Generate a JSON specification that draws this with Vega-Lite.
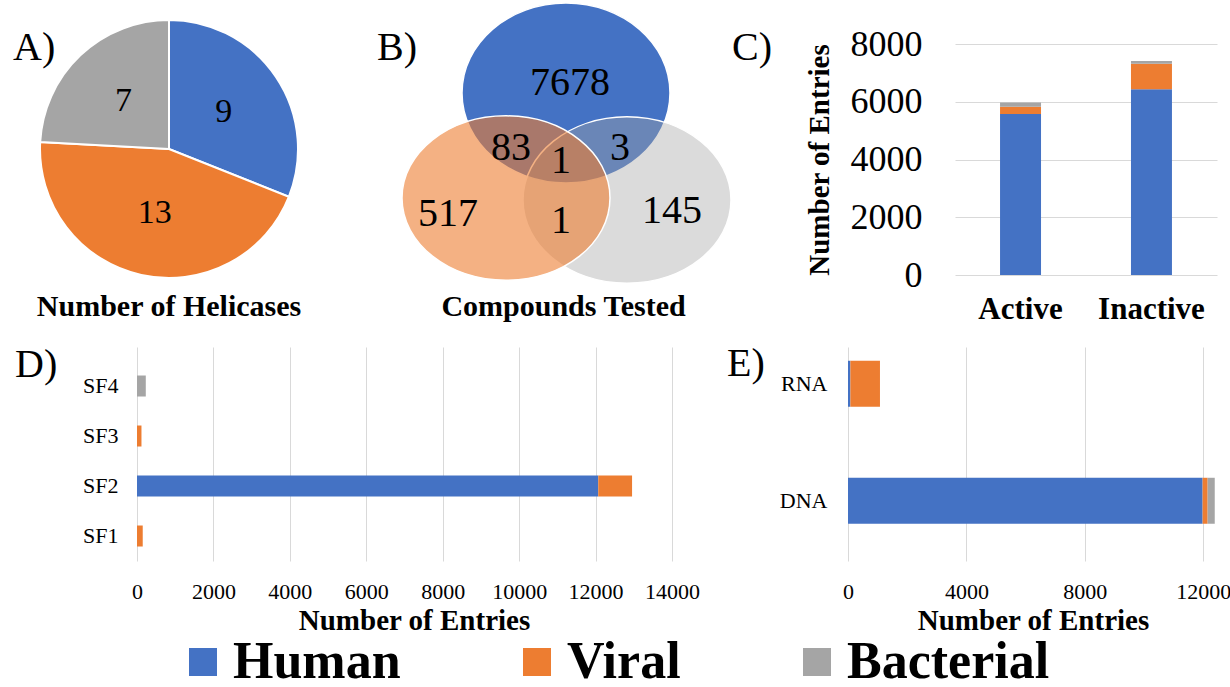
{
  "$schema": "https://vega.github.io/schema/vega-lite/v6.json",
  "background": "white",
  "padding": 0,
  "config": {
    "view": {"stroke": null},
    "font": "Liberation Serif",
    "axis": {
      "labelFont": "Liberation Serif",
      "titleFont": "Liberation Serif",
      "labelColor": "black",
      "titleColor": "black",
      "gridColor": "#D9D9D9",
      "gridWidth": 1,
      "domain": false,
      "ticks": false
    },
    "title": {"font": "Liberation Serif", "color": "black"},
    "text": {"font": "Liberation Serif", "color": "black"}
  },
  "datasets": {
    "helicases": [
      {"organism": "Human", "k": 1, "count": 9},
      {"organism": "Viral", "k": 2, "count": 13},
      {"organism": "Bacterial", "k": 3, "count": 7}
    ],
    "venn_sets": [
      {"organism": "Human", "cx": 228, "cy": 92},
      {"organism": "Bacterial", "cx": 289, "cy": 199},
      {"organism": "Viral", "cx": 168, "cy": 197}
    ],
    "venn_counts": [
      {"region": "Human only", "n": 7678, "cx": 232, "cy": 82},
      {"region": "Human and Viral", "n": 83, "cx": 173, "cy": 147},
      {"region": "All three", "n": 1, "cx": 223, "cy": 160},
      {"region": "Human and Bacterial", "n": 3, "cx": 282, "cy": 147},
      {"region": "Viral only", "n": 517, "cx": 110, "cy": 213},
      {"region": "Viral and Bacterial", "n": 1, "cx": 223, "cy": 220},
      {"region": "Bacterial only", "n": 145, "cx": 334, "cy": 210}
    ],
    "activity": [
      {"outcome": "Active", "organism": "Human", "k": 1, "entries": 5580},
      {"outcome": "Active", "organism": "Viral", "k": 2, "entries": 250},
      {"outcome": "Active", "organism": "Bacterial", "k": 3, "entries": 140},
      {"outcome": "Inactive", "organism": "Human", "k": 1, "entries": 6430},
      {"outcome": "Inactive", "organism": "Viral", "k": 2, "entries": 890},
      {"outcome": "Inactive", "organism": "Bacterial", "k": 3, "entries": 95}
    ],
    "superfamily": [
      {"family": "SF1", "organism": "Viral", "k": 2, "entries": 150},
      {"family": "SF2", "organism": "Human", "k": 1, "entries": 12070},
      {"family": "SF2", "organism": "Viral", "k": 2, "entries": 885},
      {"family": "SF3", "organism": "Viral", "k": 2, "entries": 117},
      {"family": "SF4", "organism": "Bacterial", "k": 3, "entries": 230}
    ],
    "nucleic": [
      {"substrate": "RNA", "organism": "Human", "k": 1, "entries": 80},
      {"substrate": "RNA", "organism": "Viral", "k": 2, "entries": 1000},
      {"substrate": "DNA", "organism": "Human", "k": 1, "entries": 11980},
      {"substrate": "DNA", "organism": "Viral", "k": 2, "entries": 170},
      {"substrate": "DNA", "organism": "Bacterial", "k": 3, "entries": 240}
    ]
  },
  "spacing": 19,
  "bounds": "full",
  "vconcat": [
    {
      "spacing": 0,
      "bounds": "flush",
      "hconcat": [
        {
          "width": 338,
          "height": 296,
          "title": {"text": "Number of Helicases", "orient": "bottom", "fontSize": 30, "fontWeight": "bold", "offset": -5},
          "layer": [
            {
              "data": {"name": "helicases"},
              "mark": {"type": "arc", "outerRadius": 129, "stroke": "white", "strokeWidth": 2},
              "encoding": {
                "theta": {"field": "count", "type": "quantitative", "stack": true},
                "order": {"field": "k", "type": "quantitative"},
                "color": {"field": "organism", "type": "nominal", "scale": {"domain": ["Human", "Viral", "Bacterial"], "range": ["#4472C4", "#ED7D31", "#A5A5A5"]}}
              }
            },
            {
              "data": {"name": "helicases"},
              "mark": {"type": "text", "radius": 66, "fontSize": 34},
              "encoding": {
                "theta": {"field": "count", "type": "quantitative", "stack": true},
                "order": {"field": "k", "type": "quantitative"},
                "text": {"field": "count", "type": "quantitative"}
              }
            },
            {
              "data": {"values": [{"panel": "A)", "px": 13, "py": 59}]},
              "mark": {"type": "text", "align": "left", "baseline": "alphabetic", "fontSize": 40},
              "encoding": {
                "x": {"field": "px", "type": "quantitative", "scale": {"domain": [0, 338], "nice": false}, "axis": null},
                "y": {"field": "py", "type": "quantitative", "scale": {"domain": [0, 296], "nice": false, "reverse": true}, "axis": null},
                "text": {"field": "panel"}
              }
            }
          ]
        },
        {
          "width": 617,
          "height": 296,
          "title": {"text": "Compounds Tested", "orient": "bottom", "fontSize": 30, "fontWeight": "bold", "offset": -5, "dx": -83},
          "encoding": {
            "x": {"field": "cx", "type": "quantitative", "scale": {"domain": [0, 617], "nice": false}, "axis": null},
            "y": {"field": "cy", "type": "quantitative", "scale": {"domain": [0, 296], "nice": false, "reverse": true}, "axis": null}
          },
          "layer": [
            {
              "data": {"name": "venn_sets"},
              "transform": [{"filter": "datum.organism === 'Human'"}],
              "mark": {"type": "point", "filled": true, "shape": "M -1 0 A 1 0.865 0 1 1 1 0 A 1 0.865 0 1 1 -1 0 Z", "size": 43264, "fill": "#4472C4", "opacity": 1, "stroke": "white", "strokeWidth": 1.5}
            },
            {
              "data": {"name": "venn_sets"},
              "transform": [{"filter": "datum.organism === 'Bacterial'"}],
              "mark": {"type": "point", "filled": true, "shape": "M -1 0 A 1 0.8 0 1 1 1 0 A 1 0.8 0 1 1 -1 0 Z", "size": 43264, "fill": "#A5A5A5", "opacity": 1, "fillOpacity": 0.4, "stroke": "white", "strokeWidth": 1.5}
            },
            {
              "data": {"name": "venn_sets"},
              "transform": [{"filter": "datum.organism === 'Viral'"}],
              "mark": {"type": "point", "filled": true, "shape": "M -1 0 A 1 0.79 0 1 1 1 0 A 1 0.79 0 1 1 -1 0 Z", "size": 43264, "fill": "#ED7D31", "opacity": 1, "fillOpacity": 0.6, "stroke": "white", "strokeWidth": 1.5}
            },
            {
              "data": {"name": "venn_counts"},
              "mark": {"type": "text", "fontSize": 40, "baseline": "middle"},
              "encoding": {"text": {"field": "n", "type": "quantitative"}}
            },
            {
              "data": {"values": [{"panel": "B)", "cx": 39, "cy": 59}, {"panel": "C)", "cx": 394, "cy": 59}]},
              "mark": {"type": "text", "align": "left", "baseline": "alphabetic", "fontSize": 40},
              "encoding": {"text": {"field": "panel"}}
            }
          ]
        },
        {
          "spacing": 0,
          "bounds": "flush",
          "vconcat": [
            {"width": 262, "height": 43, "data": {"values": []}, "mark": "point"},
            {
              "width": 262,
              "height": 231,
              "data": {"name": "activity"},
              "mark": {"type": "bar"},
              "encoding": {
                "x": {"field": "outcome", "type": "nominal", "sort": ["Active", "Inactive"],
                      "scale": {"paddingInner": 0.687, "paddingOuter": 0.344},
                      "axis": {"title": null, "labelAngle": 0, "labelFontSize": 31, "labelFontWeight": "bold", "labelPadding": 19}},
                "y": {"field": "entries", "type": "quantitative", "stack": true,
                      "scale": {"domain": [0, 8000], "nice": false},
                      "axis": {"values": [0, 2000, 4000, 6000, 8000], "format": "d", "title": "Number of Entries", "titleFontSize": 29, "titleFontWeight": "bold", "titlePadding": 16, "labelFontSize": 36, "labelPadding": 33, "grid": true}},
                "color": {"field": "organism", "type": "nominal", "scale": {"domain": ["Human", "Viral", "Bacterial"], "range": ["#4472C4", "#ED7D31", "#A5A5A5"]}},
                "order": {"field": "k", "type": "quantitative"}
              }
            }
          ]
        }
      ]
    },
    {
      "spacing": 0,
      "bounds": "flush",
      "hconcat": [
        {
          "width": 137,
          "height": 214,
          "data": {"values": [{"panel": "D)", "px": 15, "py": 30}]},
          "mark": {"type": "text", "align": "left", "baseline": "alphabetic", "fontSize": 40},
          "encoding": {
            "x": {"field": "px", "type": "quantitative", "scale": {"domain": [0, 137], "nice": false}, "axis": null},
            "y": {"field": "py", "type": "quantitative", "scale": {"domain": [0, 214], "nice": false, "reverse": true}, "axis": null},
            "text": {"field": "panel"}
          }
        },
        {
          "width": 535,
          "height": 214,
          "data": {"name": "superfamily"},
          "mark": {"type": "bar"},
          "encoding": {
            "y": {"field": "family", "type": "nominal", "sort": ["SF4", "SF3", "SF2", "SF1"],
                  "scale": {"paddingInner": 0.58, "paddingOuter": 0.43, "align": 0.663},
                  "axis": {"title": null, "labelFontSize": 22, "labelPadding": 19}},
            "x": {"field": "entries", "type": "quantitative", "stack": true,
                  "scale": {"domain": [0, 14000], "nice": false},
                  "axis": {"values": [0, 2000, 4000, 6000, 8000, 10000, 12000, 14000], "format": "d", "labelFlush": false, "title": "Number of Entries", "titleFontSize": 29, "titleFontWeight": "bold", "titlePadding": 4, "titleX": 277, "labelFontSize": 22, "labelPadding": 20, "grid": true}},
            "color": {"field": "organism", "type": "nominal", "scale": {"domain": ["Human", "Viral", "Bacterial"], "range": ["#4472C4", "#ED7D31", "#A5A5A5"]},
                      "legend": {"orient": "none", "legendX": 177, "legendY": 635, "direction": "horizontal", "title": null, "symbolType": "square", "symbolSize": 784, "symbolStrokeWidth": 0, "symbolOpacity": 1, "labelFont": "Liberation Serif", "labelFontSize": 52, "labelFontWeight": "bold", "labelColor": "black", "labelLimit": 400, "labelOffset": 4, "columnPadding": 110, "padding": 0}},
            "order": {"field": "k", "type": "quantitative"}
          }
        },
        {
          "width": 176,
          "height": 214,
          "data": {"values": [{"panel": "E)", "px": 55, "py": 29}]},
          "mark": {"type": "text", "align": "left", "baseline": "alphabetic", "fontSize": 40},
          "encoding": {
            "x": {"field": "px", "type": "quantitative", "scale": {"domain": [0, 176], "nice": false}, "axis": null},
            "y": {"field": "py", "type": "quantitative", "scale": {"domain": [0, 214], "nice": false, "reverse": true}, "axis": null},
            "text": {"field": "panel"}
          }
        },
        {
          "width": 370,
          "height": 214,
          "data": {"name": "nucleic"},
          "mark": {"type": "bar"},
          "encoding": {
            "y": {"field": "substrate", "type": "nominal", "sort": ["RNA", "DNA"],
                  "scale": {"paddingInner": 0.607, "paddingOuter": 0.218, "align": 0.27},
                  "axis": {"title": null, "labelFontSize": 22, "labelPadding": 21}},
            "x": {"field": "entries", "type": "quantitative", "stack": true,
                  "scale": {"domain": [0, 12500], "nice": false},
                  "axis": {"values": [0, 4000, 8000, 12000], "format": "d", "labelFlush": false, "title": "Number of Entries", "titleFontSize": 29, "titleFontWeight": "bold", "titlePadding": 4, "labelFontSize": 22, "labelPadding": 20, "grid": true}},
            "color": {"field": "organism", "type": "nominal", "scale": {"domain": ["Human", "Viral", "Bacterial"], "range": ["#4472C4", "#ED7D31", "#A5A5A5"]}},
            "order": {"field": "k", "type": "quantitative"}
          }
        }
      ]
    }
  ]
}
